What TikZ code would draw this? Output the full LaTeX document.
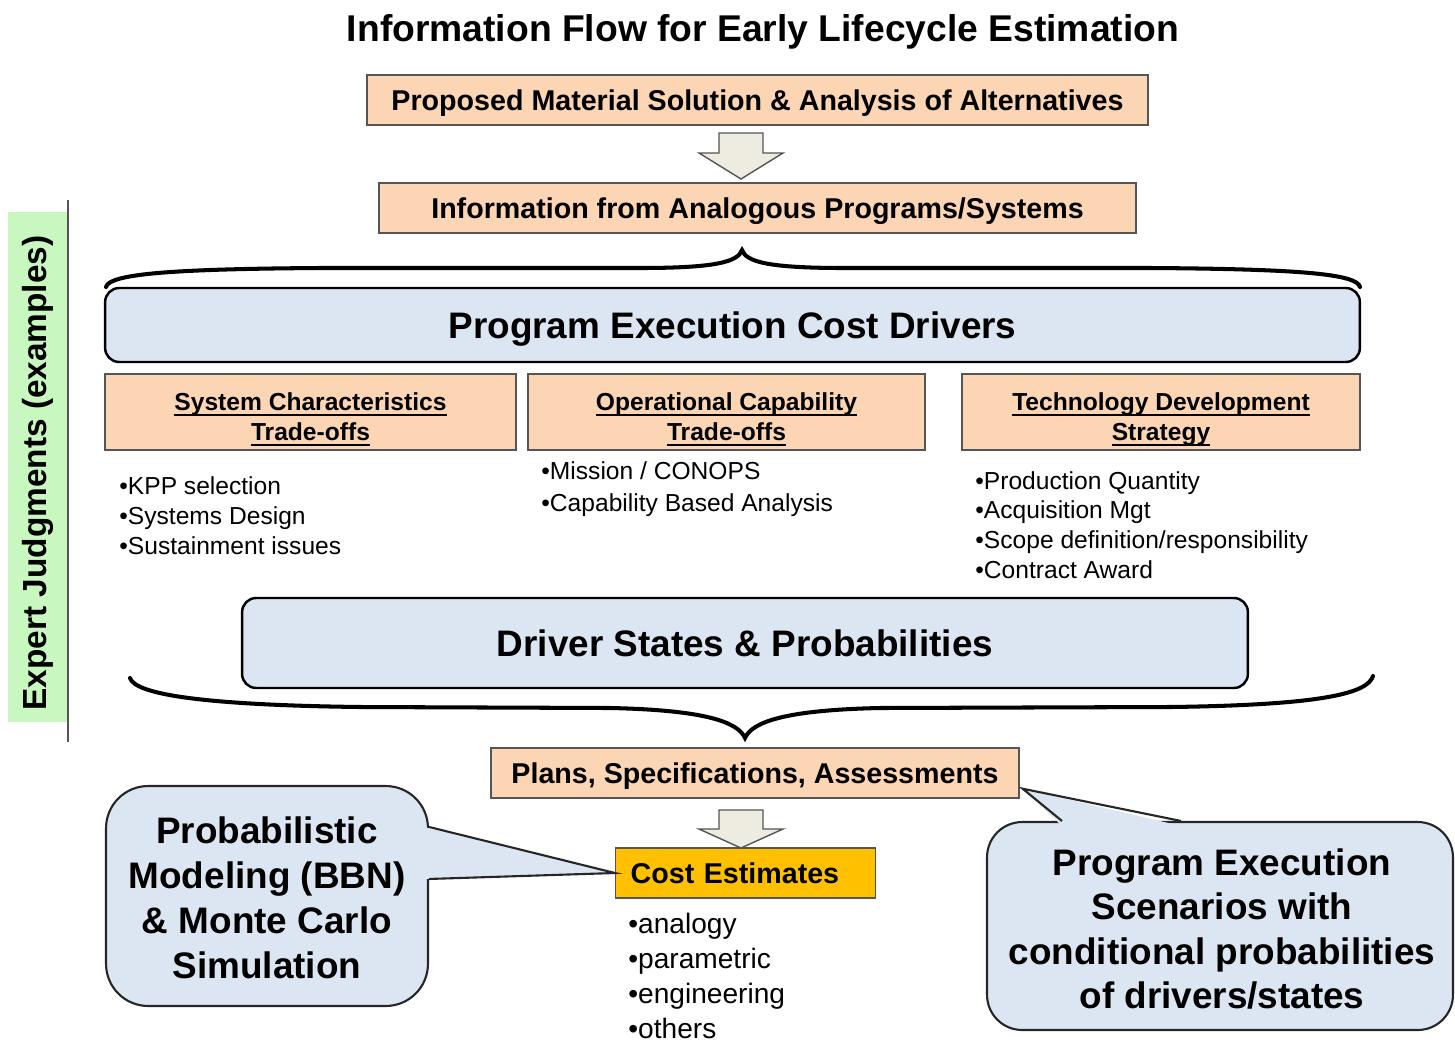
\documentclass[tikz,border=0pt]{standalone}
\usepackage{fontspec}
\setmainfont{Liberation Sans}
\usetikzlibrary{calc}
\definecolor{peach}{RGB}{252,213,180}
\definecolor{lblue}{RGB}{220,230,242}
\definecolor{gold}{RGB}{255,192,0}
\definecolor{lgreen}{RGB}{200,247,192}
\definecolor{arrowfill}{RGB}{238,236,225}
\definecolor{bordergray}{RGB}{85,85,85}
\newcommand\topstrut{\rule{0pt}{18.6pt}}
\newcommand\botstrut{\rule[-3.6pt]{0pt}{1pt}}
\newcommand\myul[1]{\setbox0\hbox{#1}\rlap{\rule[-3.1pt]{\wd0}{0.9pt}}\box0}
\begin{document}
\begin{tikzpicture}[x=0.02cm,y=-0.02cm,
  peachbox/.style={draw=bordergray, fill=peach, line width=0.8pt, inner sep=0pt,
    text height=11.7pt, text depth=0pt,
    font=\bfseries\fontsize{16.3}{19}\selectfont},
  subbox/.style={draw=bordergray, fill=peach, line width=0.8pt, inner sep=0pt,
    align=center, font=\bfseries\fontsize{14}{17}\selectfont},
  bluebox/.style={draw=black, fill=lblue, line width=1.4pt, rounded corners=8pt, inner sep=0pt,
    text height=15pt, text depth=0pt,
    font=\bfseries\fontsize{21}{25}\selectfont},
  listtext/.style={inner sep=0pt, align=left},
  blockarrow/.style={draw=bordergray, fill=arrowfill, line width=0.8pt, line join=miter},
  brace/.style={draw=black, line width=2.3pt, line cap=round},
  callout/.style={draw=black!85, fill=lblue, line width=1.2pt, inner sep=0pt, align=center,
    font=\bfseries\fontsize{21}{25.5}\selectfont},
  calloutline/.style={draw=black!85, line width=1.2pt, line join=miter}
]
\useasboundingbox (0,0) rectangle (1455,1042);

% title
\node[font=\bfseries\fontsize{21.2}{25}\selectfont, text height=15.2pt, text depth=0pt, inner sep=0pt] (title) at (763,28) {Information Flow for Early Lifecycle Estimation};

% top boxes
\node[peachbox, minimum width=15.62cm, minimum height=1cm] (pms) at (757.5,100) {Proposed Material Solution \& Analysis of Alternatives};
\node[peachbox, minimum width=15.14cm, minimum height=1cm] (info) at (757.5,208) {Information from Analogous Programs/Systems};
\draw[blockarrow] (719,133) -- (763,133) -- (763,153) -- (783,153) -- (741,179) -- (699,153) -- (719,153) -- cycle;

% expert judgments
\node[fill=lgreen, rotate=90, minimum width=10.2cm, minimum height=1.18cm, inner sep=0pt,
  font=\bfseries\fontsize{19}{23}\selectfont] (ej) at (37.5,467) {Expert Judgments (examples)\hspace*{6.8pt}};
\draw[bordergray, line width=0.9pt] (68,200) -- (68,742);

% brace 1
\draw[brace] (106,287) .. controls (109,274) and (170,269) .. (320,268) -- (640,268)
  .. controls (715,268) and (738,262) .. (742,250)
  .. controls (746,262) and (769,268) .. (844,268) -- (1150,268)
  .. controls (1300,269) and (1357,274) .. (1360,287);

% program execution cost drivers
\node[bluebox, minimum width=25.1cm, minimum height=1.48cm] (pec) at (732.5,325) {Program Execution Cost Drivers};

\node[subbox, minimum width=8.22cm, minimum height=1.52cm] (sc) at (310.5,412) {\topstrut\myul{System Characteristics}\\\botstrut\myul{Trade-offs}};
\node[subbox, minimum width=7.94cm, minimum height=1.52cm] (oc) at (726.5,412) {\topstrut\myul{Operational Capability}\\\botstrut\myul{Trade-offs}};
\node[subbox, minimum width=7.96cm, minimum height=1.52cm] (td) at (1161,412) {\topstrut\myul{Technology Development}\\\botstrut\myul{Strategy}};

\node[listtext, anchor=west, font=\fontsize{14}{17}\selectfont] (l1) at (119,516) {•KPP selection\\•Systems Design\\•Sustainment issues};
\node[listtext, anchor=west, font=\fontsize{14}{18}\selectfont] (l2) at (541,489) {•Mission / CONOPS\\•Capability Based Analysis};
\node[listtext, anchor=west, font=\fontsize{14}{17}\selectfont] (l3) at (975,525) {•Production Quantity\\•Acquisition Mgt\\•Scope definition/responsibility\\•Contract Award};

% driver states
\node[bluebox, minimum width=20.12cm, minimum height=1.8cm] (dsp) at (745,643) {Driver States \& Probabilities};

% brace 2
\draw[brace] (130,678) .. controls (135,694) and (200,705) .. (360,707) -- (610,708)
  .. controls (705,710) and (738,722) .. (745,738)
  .. controls (752,722) and (785,710) .. (880,708) -- (1170,707)
  .. controls (1330,705) and (1368,692) .. (1373,676);

% plans
\node[peachbox, minimum width=10.56cm, minimum height=1cm] (plans) at (755,773) {Plans, Specifications, Assessments};
\draw[blockarrow] (719,810) -- (763,810) -- (763,829) -- (783,829) -- (741,848) -- (699,829) -- (719,829) -- cycle;

% cost estimates
\node[draw=bordergray, fill=gold, line width=0.8pt, anchor=west, minimum height=1cm, text width=4.6cm,
  inner xsep=0.3cm, inner ysep=0pt, align=left, text height=11.7pt, text depth=0pt,
  font=\bfseries\fontsize{16.3}{19}\selectfont] (ce) at (615,873) {Cost Estimates};
\node[listtext, anchor=west, font=\fontsize{16}{19.8}\selectfont] (cl) at (628,976) {•analogy\\•parametric\\•engineering\\•others};

% left callout
\node[callout, rounded corners=24pt, minimum width=6.44cm, minimum height=4.4cm] (pbm) at (267,896) {};
\fill[lblue] ($(pbm.north east)+(-5,42)$) -- (ce.west) -- ($(pbm.north east)+(-5,94)$) -- cycle;
\draw[calloutline] ($(pbm.north east)+(0,42)$) -- (ce.west) -- ($(pbm.north east)+(0,94)$);
\node[inner sep=0pt, align=center, font=\bfseries\fontsize{21}{25.5}\selectfont] (pbmtext) at ($(pbm.center)+(0,2)$) {Probabilistic\\Modeling (BBN)\\\& Monte Carlo\\Simulation};

% right callout
\node[callout, rounded corners=20pt, minimum width=9.32cm, minimum height=4.16cm] (pes) at (1220,926) {};
\coordinate (tip) at ($(plans.south east)+(3,-10)$);
\fill[lblue] ($(pes.north west)+(76,5)$) -- (tip) -- ($(pes.north west)+(195,5)$) -- cycle;
\draw[calloutline] ($(pes.north west)+(76,0)$) -- (tip) -- ($(pes.north west)+(195,0)$);
\node[inner sep=0pt, align=center, font=\bfseries\fontsize{21}{25.3}\selectfont] (pestext) at ($(pes.center)+(2,3)$) {Program Execution\\Scenarios with\\conditional probabilities\\of drivers/states};

\end{tikzpicture}
\end{document}
